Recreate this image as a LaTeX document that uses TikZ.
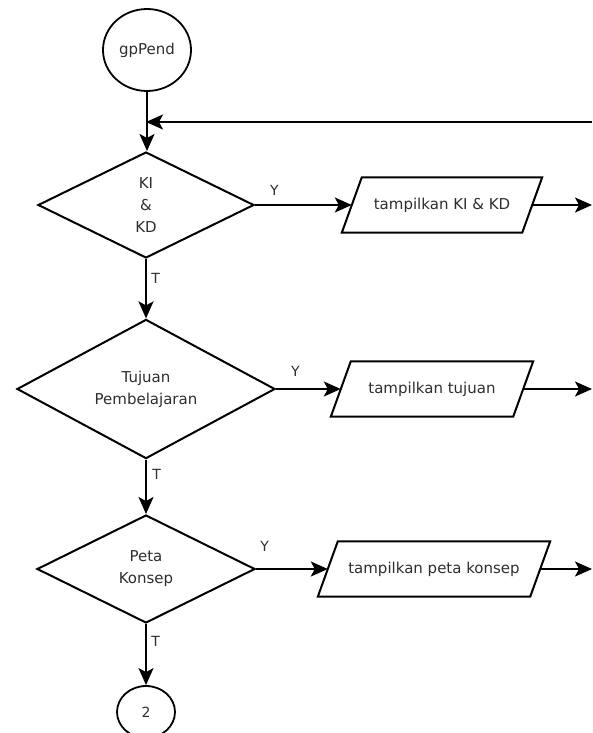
\documentclass[tikz,border=0pt]{standalone}
\usepackage{fontspec}
\setmainfont{DejaVu Sans}
\usetikzlibrary{shapes.geometric,arrows.meta}
\definecolor{txt}{HTML}{2E2E2E}

\begin{document}
\begin{tikzpicture}[x=1pt,y=-1pt,
  every node/.style={font=\fontsize{15}{22}\selectfont, text=txt},
  flow/.style={line width=2pt, -{Stealth[length=17pt,width=15pt,inset=4pt]}},
  term/.style={draw, ellipse, line width=1.8pt, inner sep=0pt},
  decide/.style={draw, diamond, line width=2pt, inner sep=0pt, align=center},
  iotext/.style={rectangle, minimum height=55pt, inner sep=0pt},
  ioedge/.style={draw, line width=2pt, line join=miter},
  lbl/.style={font=\fontsize{14}{14}\selectfont}]
\useasboundingbox (0,0) rectangle (592,733);

% start terminal and off-page connector
\node[term, minimum width=88pt, minimum height=82pt] (s) at (147,50) {gpPend};
\node[term, minimum width=58pt, minimum height=52pt] (c2) at (146,712) {\fontsize{14}{14}\selectfont 2};

% decisions
\node[decide, minimum width=216pt, minimum height=106pt] (d1) at (146,205) {KI\\\&\\KD};
\node[decide, minimum width=258pt, minimum height=126pt] (d2) at (146,389) {Tujuan\\Pembelajaran};
\node[decide, minimum width=218pt, minimum height=108pt] (d3) at (146,569) {Peta\\Konsep};

% outputs: text bodies (mid-height width) with slanted parallelogram outlines
\node[iotext, minimum width=180pt] (p1) at (442,205) {tampilkan KI \& KD};
\node[iotext, minimum width=182pt] (p2) at (432,389) {tampilkan tujuan};
\node[iotext, minimum width=212pt] (p3) at (434,569) {tampilkan peta konsep};
\foreach \p in {p1,p2,p3}
  \draw[ioedge] ([xshift=-10pt]\p.south west) -- ([xshift=10pt]\p.north west)
    -- ([xshift=10pt]\p.north east) -- ([xshift=-10pt]\p.south east) -- cycle;

% page edge for incoming / outgoing flows
\coordinate (edge) at (592,0);
\coordinate (loopin) at (592,122);

% main column
\draw[flow] (s.south) -- (s.south |- d1.north);
\draw[flow] (loopin) -- (loopin -| d1.north);
\draw[flow] (d1.south) -- node[lbl, pos=0.32, right=1pt] {T} (d2.north);
\draw[flow] (d2.south) -- node[lbl, pos=0.28, right=2pt] {T} (d3.north);
\draw[flow] (d3.south) -- node[lbl, pos=0.28, right=1pt] {T} (c2.north);

% yes branches
\draw[flow] (d1.east) -- node[lbl, pos=0.2, above=5pt] {Y} (p1.west);
\draw[flow] (d2.east) -- node[lbl, pos=0.3, above=8pt] {Y} (p2.west);
\draw[flow] (d3.east) -- node[lbl, pos=0.12, above=13pt] {Y} (p3.west);

% flows leaving to the right
\draw[flow] (p1.east) -- (p1.east -| edge);
\draw[flow] (p2.east) -- (p2.east -| edge);
\draw[flow] (p3.east) -- (p3.east -| edge);
\end{tikzpicture}
\end{document}
